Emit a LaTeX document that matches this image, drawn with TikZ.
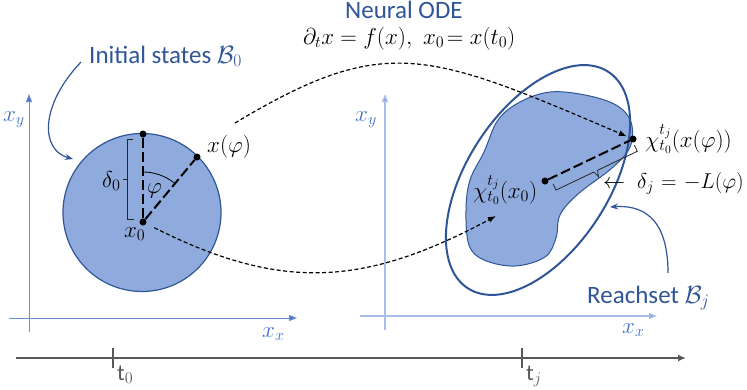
\documentclass[tikz,border=0pt]{standalone}
\usepackage{fix-cm}
\usepackage{fontspec}
\usetikzlibrary{arrows.meta,shapes.geometric,calc}
\newfontfamily\cf{Carlito}
\definecolor{dblue}{HTML}{2F5597}
\definecolor{mblue}{HTML}{4472C4}
\definecolor{fblue}{HTML}{8FAADC}
\definecolor{lblue}{HTML}{A6BFE8}
\definecolor{tgray}{HTML}{595959}
\tikzset{
  dot/.style={circle, fill=black, inner sep=0pt, minimum size=7pt},
  longdash/.style={line width=2pt, dash pattern=on 10pt off 4pt},
  flow/.style={line width=1.2pt, dash pattern=on 4pt off 2.5pt, -{Latex[length=8pt,width=6pt]}},
  callout/.style={draw=dblue, line width=1.2pt, -{Stealth[length=8pt,width=6pt]}},
  bracket/.style={line width=0.8pt, black!85},
  sanslbl/.style={font=\cf\fontsize{25}{30}\selectfont, text=dblue, inner sep=0pt, anchor=base west},
  mathlbl/.style={font=\fontsize{23}{27}\selectfont, inner sep=0pt, anchor=base west},
  axlbl/.style={mathlbl, text=mblue},
  axisL/.style={draw=mblue!80, line width=1pt, -{Triangle[length=8pt,width=6pt,fill=mblue]}},
  axisR/.style={draw=lblue, line width=1.6pt, -{Triangle[length=8pt,width=6pt,fill=mblue]}},
  timeline/.style={draw=tgray, line width=2pt, -{Latex[length=8pt,width=7pt]}},
  tick/.style={draw=tgray, line width=1.3pt},
  region/.style={draw=dblue, fill=fblue, line width=1.2pt}
}
\begin{document}
\begin{tikzpicture}[x=1pt,y=1pt]
\useasboundingbox (0,0) rectangle (747,-389);

% ---------- axes ----------
\coordinate (Lyb) at (29,-332);  \coordinate (Lyt) at (29,-94);
\coordinate (Lxl) at (9,-318);   \coordinate (Lxr) at (297,-318);
\coordinate (Ryb) at (385,-330); \coordinate (Ryt) at (385,-94);
\coordinate (Rxl) at (360,-316); \coordinate (Rxr) at (657,-316);
\draw[axisL] (Lyb) -- (Lyt);
\draw[axisL] (Lxl) -- (Lxr);
\draw[axisR] (Ryb) -- (Ryt);
\draw[axisR] (Rxl) -- (Rxr);
\node[axlbl] (lxy) at (3,-121) {$x_y$};
\node[axlbl] (lxx) at (262,-337) {$x_x$};
\node[axlbl] (rxy) at (355,-121) {$x_y$};
\node[axlbl] (rxx) at (622,-333) {$x_x$};

% ---------- timeline ----------
\coordinate (T0) at (16,-358); \coordinate (T1) at (686,-358);
\draw[timeline] (T0) -- (T1);
\coordinate (k0a) at (113,-348); \coordinate (k0b) at (113,-368);
\coordinate (kja) at (522,-348); \coordinate (kjb) at (522,-368);
\draw[tick] (k0a) -- (k0b);
\draw[tick] (kja) -- (kjb);
\node[mathlbl, text=tgray] (t0) at (117,-380) {{\cf t}$_0$};
\node[mathlbl, text=tgray] (tj) at (526,-380) {{\cf t}$_j$};

% ---------- initial set ----------
\node[region, circle, minimum size=158pt, inner sep=0pt] (B0) at (142,-212.5) {};
\node[dot] (x0) at (143,-222) {};
\node[dot] (top) at (143,-134) {};
\node[dot] (xphi) at (197,-157) {};
\draw[longdash] (x0) -- (top);
\draw[longdash] (x0) -- (xphi);
\draw[line width=0.8pt] ([shift={(90:50)}]x0.center) arc[start angle=90, end angle=52, radius=50];
\draw[bracket] (133,-139) -- (127.5,-139) -- (127.5,-219) -- (134,-219);
\draw[bracket] (127.5,-179) -- (122.5,-179);
\node[mathlbl] (d0) at (102,-187) {$\delta_0$};
\node[mathlbl] (phi) at (147,-193) {$\varphi$};
\node[mathlbl] (x0l) at (124,-237) {$x_0$};
\node[mathlbl] (xphil) at (207,-152) {$x(\varphi)$};
\node[sanslbl] (init) at (89,-63) {Initial states $\mathcal{B}_0$};
\coordinate (ia) at (81,-62);
\coordinate (ib) at (73,-159);
\draw[callout] (ia) .. controls (40,-105) and (40,-150) .. (ib);

% ---------- reach set ----------
\draw[region, line width=1pt] plot[smooth cycle, tension=0.6] coordinates {
  (498,-120) (484,-152) (470,-180) (466,-210) (469,-245) (484,-260) (515,-266)
  (545,-257) (556,-238) (560,-215) (578,-194) (612,-168) (630,-147) (631,-122)
  (616,-105) (585,-95) (550,-92) (520,-102)};
\node[draw=dblue, line width=2pt, ellipse, minimum width=258pt, minimum height=142pt,
      inner sep=0pt, rotate=57] (E) at (538,-180) {};
\node[dot] (cx0) at (545,-181) {};
\node[dot] (cphi) at (633,-139) {};
\draw[longdash] (cx0) -- (cphi);
\draw[bracket] (553,-183.8) -- (556,-190.1) -- (593.9,-172) -- (598.4,-176.6)
  -- (597.6,-170.3) -- (637.3,-151.3) -- (634.3,-145);
\node[mathlbl] (chix0) at (473,-198) {$\chi^{t_j}_{t_0}(x_0)$};
\node[mathlbl] (chiphi) at (645,-147) {$\chi^{t_j}_{t_0}(x(\varphi))$};
\node[font=\fontsize{22}{26}\selectfont, inner sep=0pt] (larr) at (614,-184) {$\leftarrow$};
\node[mathlbl, font=\fontsize{21.5}{26}\selectfont] (dj) at (637,-188)
  {$\delta_j\mkern1mu=\mkern1mu-L(\varphi)$};
\node[sanslbl] (reach) at (587,-303) {Reachset $\mathcal{B}_j$};
\coordinate (ra) at (668,-273);
\coordinate (rb) at (610,-207);
\draw[callout] (ra) .. controls (668,-215) and (640,-205) .. (rb);

% ---------- neural ODE ----------
\node[sanslbl] (node) at (345,-18) {Neural ODE};
\node[mathlbl] (eq) at (303,-44) {$\partial_t x = f(x),\ x_0\!= x(t_0)$};
\coordinate (s1) at (235,-123);
\draw[flow, shorten >=3pt] (s1) .. controls (385,-33) and (427,-51) .. (cphi);
\coordinate (e2) at (496,-216);
\draw[flow, shorten <=9pt] (x0) .. controls (282,-292) and (365,-286) .. (e2);
\end{tikzpicture}
\end{document}
